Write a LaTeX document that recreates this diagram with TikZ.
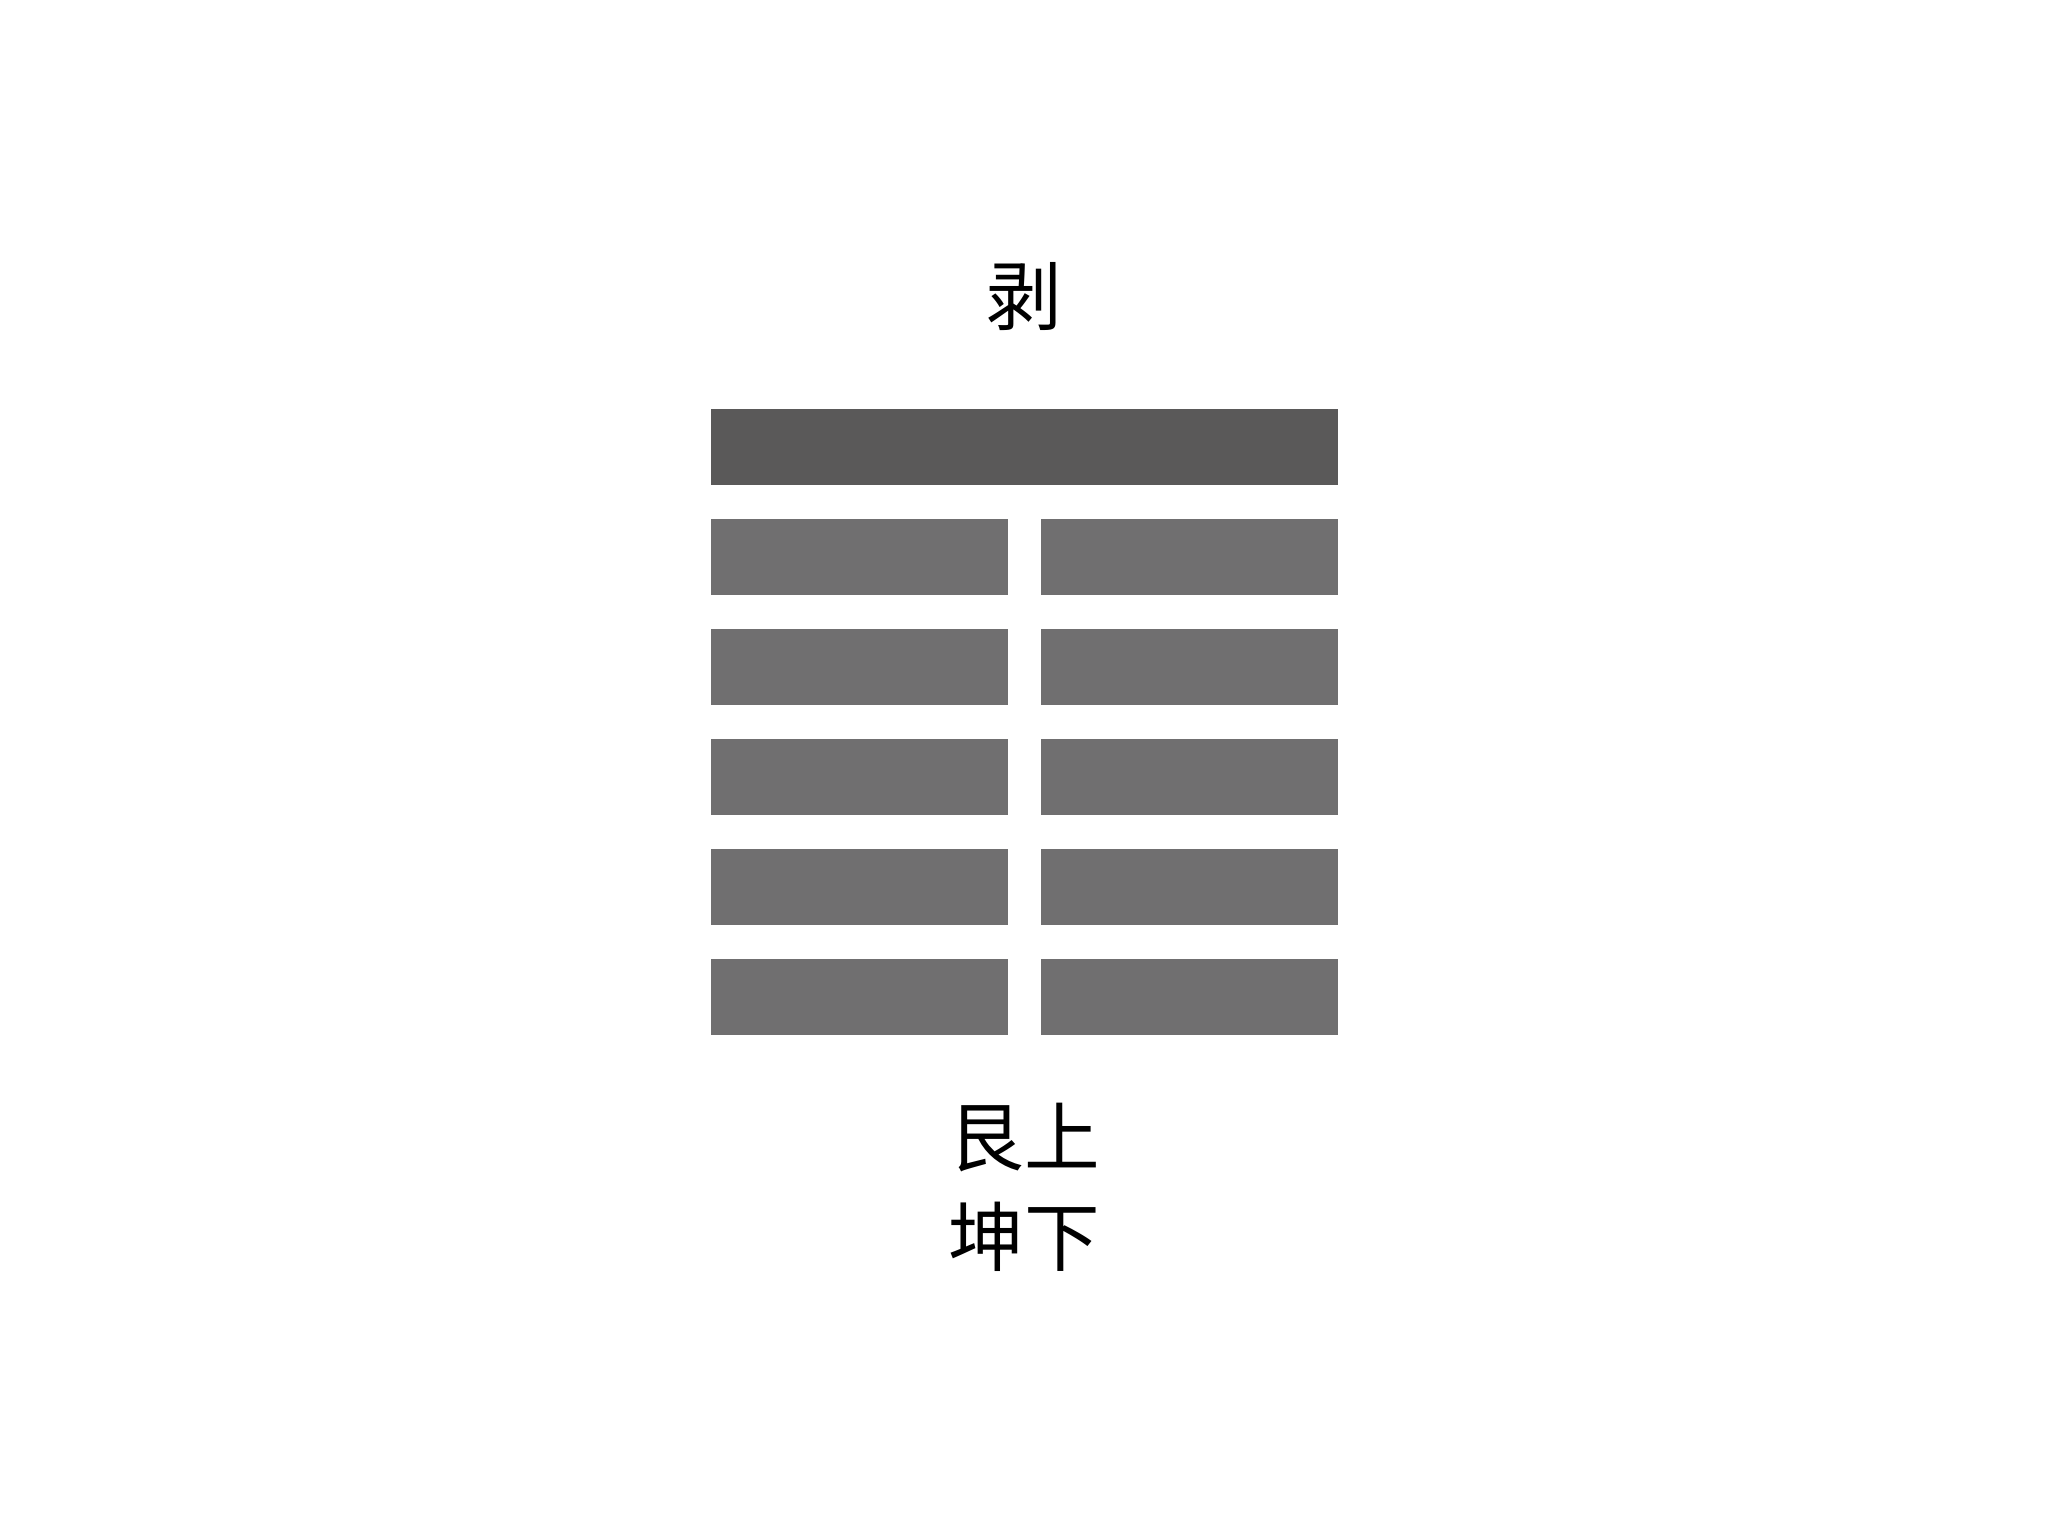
\documentclass[tikz,border=0pt]{standalone}
\usepackage{fontspec}
\newfontfamily\cjk{Noto Sans CJK SC}
\definecolor{yangcol}{HTML}{5A5959}
\definecolor{yincol}{HTML}{706F70}

\begin{document}
\begin{tikzpicture}[x=0.01cm,y=-0.01cm,
    yang line/.style={rectangle,fill=yangcol,inner sep=0pt,minimum width=6.26cm,minimum height=0.76cm},
    yin line/.style={rectangle,fill=yincol,inner sep=0pt,minimum width=2.96cm,minimum height=0.76cm},
    gua text/.style={font=\cjk\fontsize{21.5pt}{28.5pt}\selectfont,align=center,inner sep=0pt}]

            \useasboundingbox (0,0) rectangle (2048,1536);

            \node[gua text] (name) at (1024,297) {剥};

            \node[yang line] (top) at (1024.5,447) {};
            \foreach \i in {1,...,5} {
                \node[yin line] (L\i) at (859.5,447+110*\i) {};
                \node[yin line] (R\i) at (1189.5,447+110*\i) {};
            }

            \node[gua text] (trigrams) at (1024,1187) {艮上\\坤下};

        \end{tikzpicture}
\end{document}
